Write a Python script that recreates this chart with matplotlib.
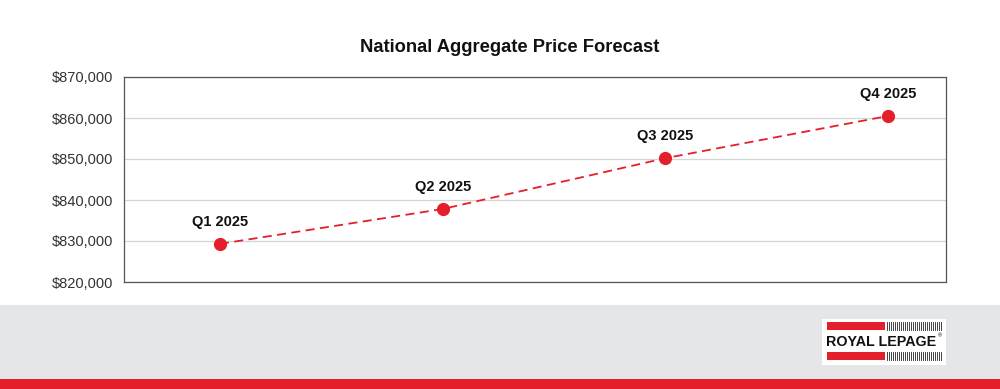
import matplotlib
matplotlib.use("Agg")
import matplotlib.pyplot as plt
from matplotlib.patches import Rectangle
from matplotlib.ticker import FuncFormatter

plt.rcParams['font.family'] = ['Liberation Sans', 'DejaVu Sans']

quarters = ["Q1 2025", "Q2 2025", "Q3 2025", "Q4 2025"]
prices = [829300, 837800, 850200, 860500]
yticks = [820000, 830000, 840000, 850000, 860000, 870000]
title = "National Aggregate Price Forecast"

RED = "#e41e2b"
W, H = 1000, 389
fig = plt.figure(figsize=(W / 100, H / 100), dpi=100)
fig.patch.set_facecolor("white")

# footer band and red strip
fig.patches.append(Rectangle((0, 10 / H), 1, 74 / H, transform=fig.transFigure,
                             facecolor="#e5e6e8", edgecolor="none", zorder=0))
fig.patches.append(Rectangle((0, 0), 1, 10 / H, transform=fig.transFigure,
                             facecolor=RED, edgecolor="none", zorder=0))

ax = fig.add_axes([124 / W, (H - 282) / H, 822 / W, 205 / H])
x = list(range(len(quarters)))
ax.plot(x, prices, color=RED, linestyle=(0, (5, 3)), linewidth=1.3,
        marker="o", markersize=8.5, markerfacecolor=RED, markeredgecolor=RED, zorder=3)
for xi, (q, p) in enumerate(zip(quarters, prices)):
    ax.annotate(q, (xi, p), xytext=(0, 11), textcoords="offset points",
                ha="center", va="bottom", fontsize=10.5, fontweight="bold", color="#111111")

ax.set_xlim(-0.431, 3.26)
ax.set_ylim(yticks[0], yticks[-1])
ax.set_yticks(yticks)
ax.yaxis.set_major_formatter(FuncFormatter(lambda v, _: f"${v:,.0f}"))
ax.set_xticks([])
ax.grid(axis="y", color="#d4d4d4", linewidth=0.9)
ax.set_axisbelow(True)
for s in ax.spines.values():
    s.set_color("#555555")
    s.set_linewidth(0.9)
ax.tick_params(axis="y", length=0, pad=8, labelsize=10.5, labelcolor="#333333")

fig.text(0.51, (H - 48) / H, title, ha="center", va="center",
         fontsize=13.2, fontweight="bold", color="#111111")

# logo
lx0, ly0, lw, lh = 822, 319, 124, 46
fig.patches.append(Rectangle((lx0 / W, (H - ly0 - lh) / H), lw / W, lh / H,
                             transform=fig.transFigure, facecolor="white",
                             edgecolor="none", zorder=1))
for by in (322, 352):
    fig.patches.append(Rectangle((827 / W, (H - by - 8) / H), 58 / W, 8 / H,
                                 transform=fig.transFigure, facecolor=RED,
                                 edgecolor="none", zorder=2))
    for i in range(28):
        xx = 887 + i * 2.0
        if xx > 941:
            break
        fig.lines.append(plt.Line2D([xx / W, xx / W], [(H - by - 8) / H, (H - by) / H],
                                    transform=fig.transFigure, color="#222222",
                                    linewidth=0.6, zorder=2))
fig.text(826 / W, (H - 341.5) / H, "ROYAL LEPAGE", ha="left", va="center",
         fontsize=10.3, fontweight="bold", color="#111111", zorder=3)
fig.text(938 / W, (H - 336) / H, "®", ha="left", va="center", fontsize=4, color="#111111")

fig.savefig("out.png", dpi=100)
